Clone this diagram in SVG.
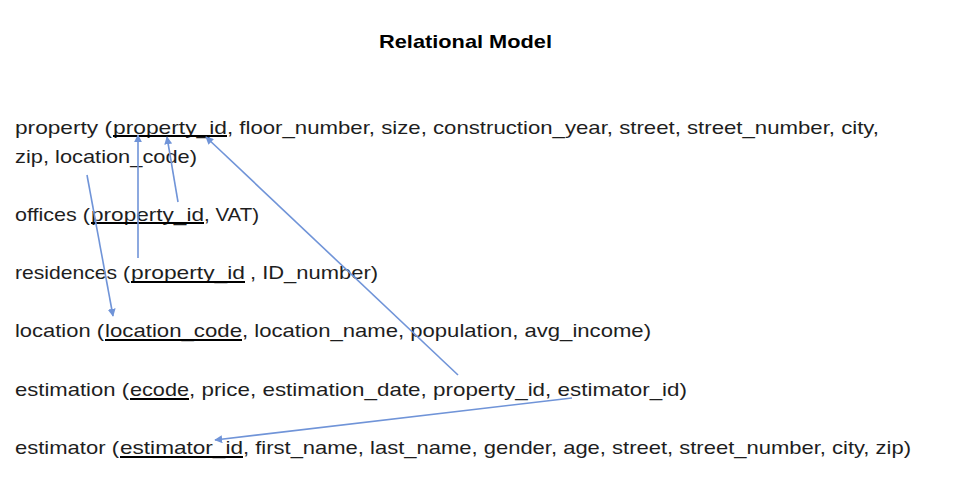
<svg xmlns="http://www.w3.org/2000/svg" width="966" height="502" viewBox="0 0 966 502">
<style>
text{font-family:"Liberation Sans","Noto Sans",sans-serif;font-size:19px;fill:#1e1e1e}
.t{font-weight:bold;font-size:19px;fill:#000}
.u{stroke:#000;stroke-width:2}
.c{stroke:#7094d8;stroke-width:1.6;fill:none;marker-end:url(#ah)}
</style>
<defs>
<marker id="ah" viewBox="0 0 10 10" refX="9" refY="5" markerWidth="5" markerHeight="5" orient="auto" markerUnits="strokeWidth">
<path d="M0,0 L10,5 L0,10 z" fill="#7094d8"/>
</marker>
</defs>
<rect width="966" height="502" fill="#fff"/>
<text class="t" x="379" y="48" textLength="173" lengthAdjust="spacingAndGlyphs">Relational Model</text>

<g id="property">
<text x="15" y="134" textLength="97" lengthAdjust="spacingAndGlyphs">property (</text>
<text x="113" y="134" textLength="114" lengthAdjust="spacingAndGlyphs">property_id</text>
<text x="227" y="134" textLength="652" lengthAdjust="spacingAndGlyphs">, floor_number, size, construction_year, street, street_number, city,</text>
<text x="15" y="163" textLength="182" lengthAdjust="spacingAndGlyphs">zip, location_code)</text>
<line class="u" x1="113" y1="136" x2="227" y2="136"/>
</g>

<g id="offices">
<text x="15" y="221" textLength="75" lengthAdjust="spacingAndGlyphs">offices (</text>
<text x="91" y="221" textLength="113" lengthAdjust="spacingAndGlyphs">property_id</text>
<text x="204" y="221" textLength="55" lengthAdjust="spacingAndGlyphs">, VAT)</text>
<line class="u" x1="91" y1="223" x2="204" y2="223"/>
</g>

<g id="residences">
<text x="15" y="279" textLength="115" lengthAdjust="spacingAndGlyphs">residences (</text>
<text x="131" y="279" textLength="114" lengthAdjust="spacingAndGlyphs">property_id</text>
<text x="250" y="279" textLength="128" lengthAdjust="spacingAndGlyphs">, ID_number)</text>
<line class="u" x1="131" y1="282" x2="245" y2="282"/>
</g>

<g id="location">
<text x="15" y="337" textLength="89" lengthAdjust="spacingAndGlyphs">location (</text>
<text x="105" y="337" textLength="137" lengthAdjust="spacingAndGlyphs">location_code</text>
<text x="242" y="337" textLength="409" lengthAdjust="spacingAndGlyphs">, location_name, population, avg_income)</text>
<line class="u" x1="105" y1="340" x2="242" y2="340"/>
</g>

<g id="estimation">
<text x="15" y="396" textLength="114" lengthAdjust="spacingAndGlyphs">estimation (</text>
<text x="130" y="396" textLength="59" lengthAdjust="spacingAndGlyphs">ecode</text>
<text x="189" y="396" textLength="498" lengthAdjust="spacingAndGlyphs">, price, estimation_date, property_id, estimator_id)</text>
<line class="u" x1="130" y1="399" x2="189" y2="399"/>
</g>

<g id="estimator">
<text x="15" y="454" textLength="104" lengthAdjust="spacingAndGlyphs">estimator (</text>
<text x="120" y="454" textLength="123" lengthAdjust="spacingAndGlyphs">estimator_id</text>
<text x="243" y="454" textLength="668" lengthAdjust="spacingAndGlyphs">, first_name, last_name, gender, age, street, street_number, city, zip)</text>
<line class="u" x1="120" y1="457" x2="243" y2="457"/>
</g>

<g id="connectors">
<line class="c" x1="87" y1="175" x2="113" y2="316"/>
<line class="c" x1="138" y1="258" x2="138" y2="135"/>
<line class="c" x1="178" y1="202" x2="167" y2="137"/>
<line class="c" x1="458" y1="375" x2="206" y2="137"/>
<line class="c" x1="572" y1="398" x2="215" y2="440"/>
</g>
</svg>
